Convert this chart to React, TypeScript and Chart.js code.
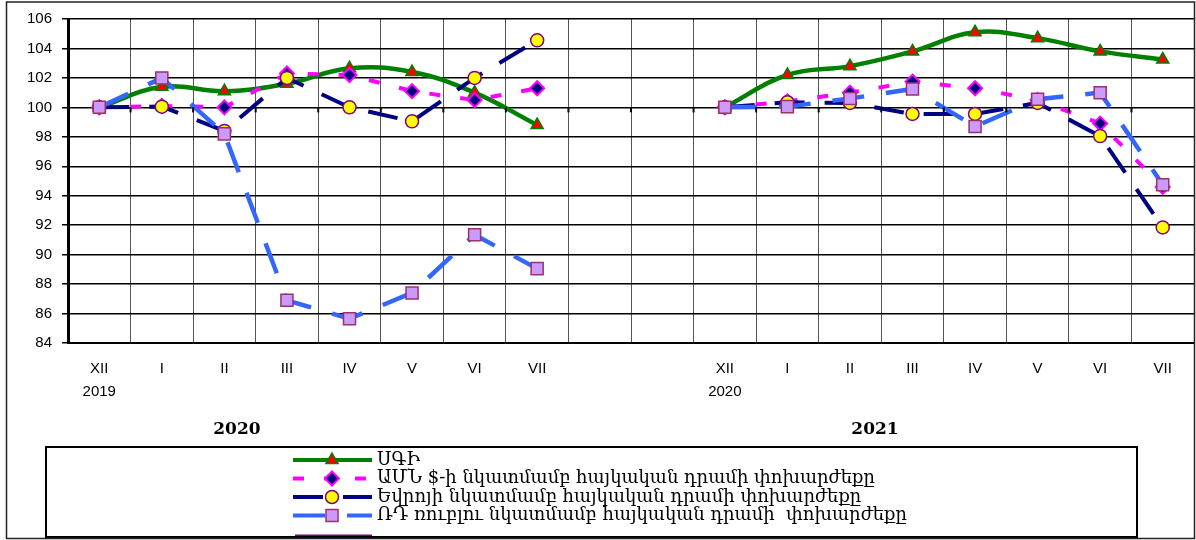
import React, { useEffect, useRef } from 'react';
import { Chart, registerables } from 'chart.js';
import { drawPoint } from 'chart.js/helpers';

Chart.register(...registerables);

const categories: (string | string[])[] = [
  ['XII', '2019'], 'I', 'II', 'III', 'IV', 'V', 'VI', 'VII', '', '',
  ['XII', '2020'], 'I', 'II', 'III', 'IV', 'V', 'VI', 'VII',
];

const cpi = [100.0, 101.4, 101.1, 101.6, 102.65, 102.4, 101.0, 98.8, null, null,
  100.0, 102.2, 102.8, 103.8, 105.1, 104.7, 103.8, 103.25];
const usd = [100.0, 100.1, 100.0, 102.3, 102.2, 101.1, 100.5, 101.3, null, null,
  100.0, 100.4, 101.0, 101.75, 101.3, 100.5, 98.9, 94.6];
const eur = [100.0, 100.05, 98.4, 102.0, 100.0, 99.05, 102.0, 104.55, null, null,
  100.0, 100.35, 100.3, 99.55, 99.55, 100.3, 98.05, 91.85];
const rub = [100.0, 102.0, 98.2, 86.9, 85.65, 87.4, 91.35, 89.05, null, null,
  100.0, 100.05, 100.6, 101.25, 98.7, 100.55, 101.0, 94.75];

const yTicksMin = 84;
const yTicksMax = 106;
const yTicksStep = 2;

const yearTitles = ['2020', '2021'];
const seriesNames = [
  'ՍԳԻ',
  'ԱՄՆ $-ի նկատմամբ հայկական դրամի փոխարժեքը',
  'Եվրոյի նկատմամբ հայկական դրամի փոխարժեքը',
  'ՌԴ ռուբլու նկատմամբ հայկական դրամի  փոխարժեքը',
];

export default function App() {
  const ref = useRef<HTMLCanvasElement>(null);

  useEffect(() => {
    document.body.style.margin = '0';
    const canvas = ref.current!;

    const decorPlugin = {
      id: 'decor',
      afterDraw(chart: any) {
        const ctx = chart.ctx as CanvasRenderingContext2D;
        const xs = chart.scales.x;
        const ys = chart.scales.y;
        ctx.save();

        // small ticks on the 100 line at category boundaries
        const y100 = ys.getPixelForValue(100);
        ctx.strokeStyle = '#000';
        ctx.lineWidth = 2;
        for (let i = 1; i < categories.length; i++) {
          const px = xs.getPixelForValue(i - 0.5);
          ctx.beginPath();
          ctx.moveTo(px, y100);
          ctx.lineTo(px, y100 + 5);
          ctx.stroke();
        }

        // year titles
        ctx.font = 'bold 17px "DejaVu Serif"';
        ctx.fillStyle = '#000';
        ctx.textAlign = 'center';
        ctx.textBaseline = 'middle';
        ctx.fillText(yearTitles[0], xs.getPixelForValue(2.2), 430);
        ctx.fillText(yearTitles[1], xs.getPixelForValue(12.4), 430);

        // legend
        const lx0 = 293, lx1 = 372, mx = 332, tx = 377;
        const rows = [460, 478.5, 497, 515.5];
        chart.data.datasets.forEach((ds: any, i: number) => {
          const ry = rows[i];
          ctx.save();
          ctx.strokeStyle = ds.borderColor;
          ctx.lineWidth = 4;
          ctx.setLineDash(ds.borderDash || []);
          ctx.lineCap = 'butt';
          ctx.beginPath();
          ctx.moveTo(lx0, ry);
          ctx.lineTo(lx1, ry);
          ctx.stroke();
          ctx.setLineDash([]);
          ctx.fillStyle = ds.pointBackgroundColor;
          ctx.strokeStyle = ds.pointBorderColor;
          ctx.lineWidth = ds.pointBorderWidth;
          drawPoint(ctx, { pointStyle: ds.pointStyle, rotation: 0, radius: ds.pointRadius, borderWidth: ds.pointBorderWidth }, mx, ry);
          ctx.restore();
          ctx.font = '18px "DejaVu Serif"';
          ctx.fillStyle = '#000';
          ctx.textAlign = 'left';
          ctx.textBaseline = 'middle';
          ctx.fillText(seriesNames[i], tx, ry);
        });
        // partly hidden fifth legend line
        ctx.strokeStyle = '#800080';
        ctx.lineWidth = 2;
        ctx.beginPath();
        ctx.moveTo(295, 535.5);
        ctx.lineTo(372, 535.5);
        ctx.stroke();

        ctx.strokeStyle = '#000';
        ctx.lineWidth = 2;
        ctx.strokeRect(46, 447, 1091, 90);

        // outer frame
        ctx.strokeStyle = '#222';
        ctx.lineWidth = 1.5;
        ctx.strokeRect(6.5, 2, 1188, 536.5);
        ctx.restore();
      },
    };

    const chart = new Chart(canvas, {
      type: 'line',
      data: {
        labels: categories,
        datasets: [
          {
            label: seriesNames[0],
            data: cpi,
            borderColor: '#008000',
            borderWidth: 4.5,
            tension: 0.4,
            pointStyle: 'triangle',
            pointRadius: 7,
            pointBackgroundColor: '#FF0000',
            pointBorderColor: '#008000',
            pointBorderWidth: 1.5,
            order: 4,
          },
          {
            label: seriesNames[1],
            data: usd,
            borderColor: '#FF00FF',
            borderWidth: 4,
            borderDash: [11, 20],
            tension: 0,
            pointStyle: 'rectRot',
            pointRadius: 7,
            pointBackgroundColor: '#000080',
            pointBorderColor: '#FF00FF',
            pointBorderWidth: 2,
            order: 3,
          },
          {
            label: seriesNames[2],
            data: eur,
            borderColor: '#000080',
            borderWidth: 4,
            borderDash: [30, 20],
            tension: 0,
            pointStyle: 'circle',
            pointRadius: 6.5,
            pointBackgroundColor: '#FFFF00',
            pointBorderColor: '#800080',
            pointBorderWidth: 1.5,
            order: 2,
          },
          {
            label: seriesNames[3],
            data: rub,
            borderColor: '#3366FF',
            borderWidth: 4.5,
            borderDash: [32, 22],
            tension: 0,
            pointStyle: 'rect',
            pointRadius: 8.5,
            pointBackgroundColor: '#CC99FF',
            pointBorderColor: '#993366',
            pointBorderWidth: 1.5,
            order: 1,
          },
        ],
      },
      options: {
        animation: false,
        responsive: false,
        devicePixelRatio: 1,
        spanGaps: false,
        layout: { autoPadding: false, padding: { left: 0, top: 15, right: 2, bottom: 0 } },
        plugins: {
          legend: { display: false },
          tooltip: { enabled: false },
          title: { display: false },
        },
        scales: {
          x: {
            type: 'category',
            offset: true,
            grid: {
              offset: true,
              color: '#555',
              lineWidth: 1,
              drawTicks: false,
            },
            border: { display: true, color: '#000', width: 2 },
            ticks: {
              autoSkip: false,
              maxRotation: 0,
              minRotation: 0,
              padding: 14.5,
              color: '#000',
              font: { family: '"Liberation Sans", Arial, sans-serif', size: 15, lineHeight: 23 / 15 },
            },
            afterFit(scale: any) {
              scale.height = 197;
            },
          },
          y: {
            min: yTicksMin,
            max: yTicksMax,
            ticks: {
              stepSize: yTicksStep,
              padding: 10,
              color: '#000',
              font: { family: '"Liberation Sans", Arial, sans-serif', size: 15 },
            },
            grid: {
              color: '#000',
              lineWidth: 1.5,
              tickLength: 6,
            },
            border: { display: true, color: '#000', width: 3 },
            afterFit(scale: any) {
              scale.width = 68;
            },
          },
        },
      },
      plugins: [decorPlugin],
    } as any);

    return () => chart.destroy();
  }, []);

  return (
    <div style={{ width: 1196, height: 540, background: '#fff' }}>
      <canvas ref={ref} width={1196} height={540} style={{ display: 'block' }} />
    </div>
  );
}
